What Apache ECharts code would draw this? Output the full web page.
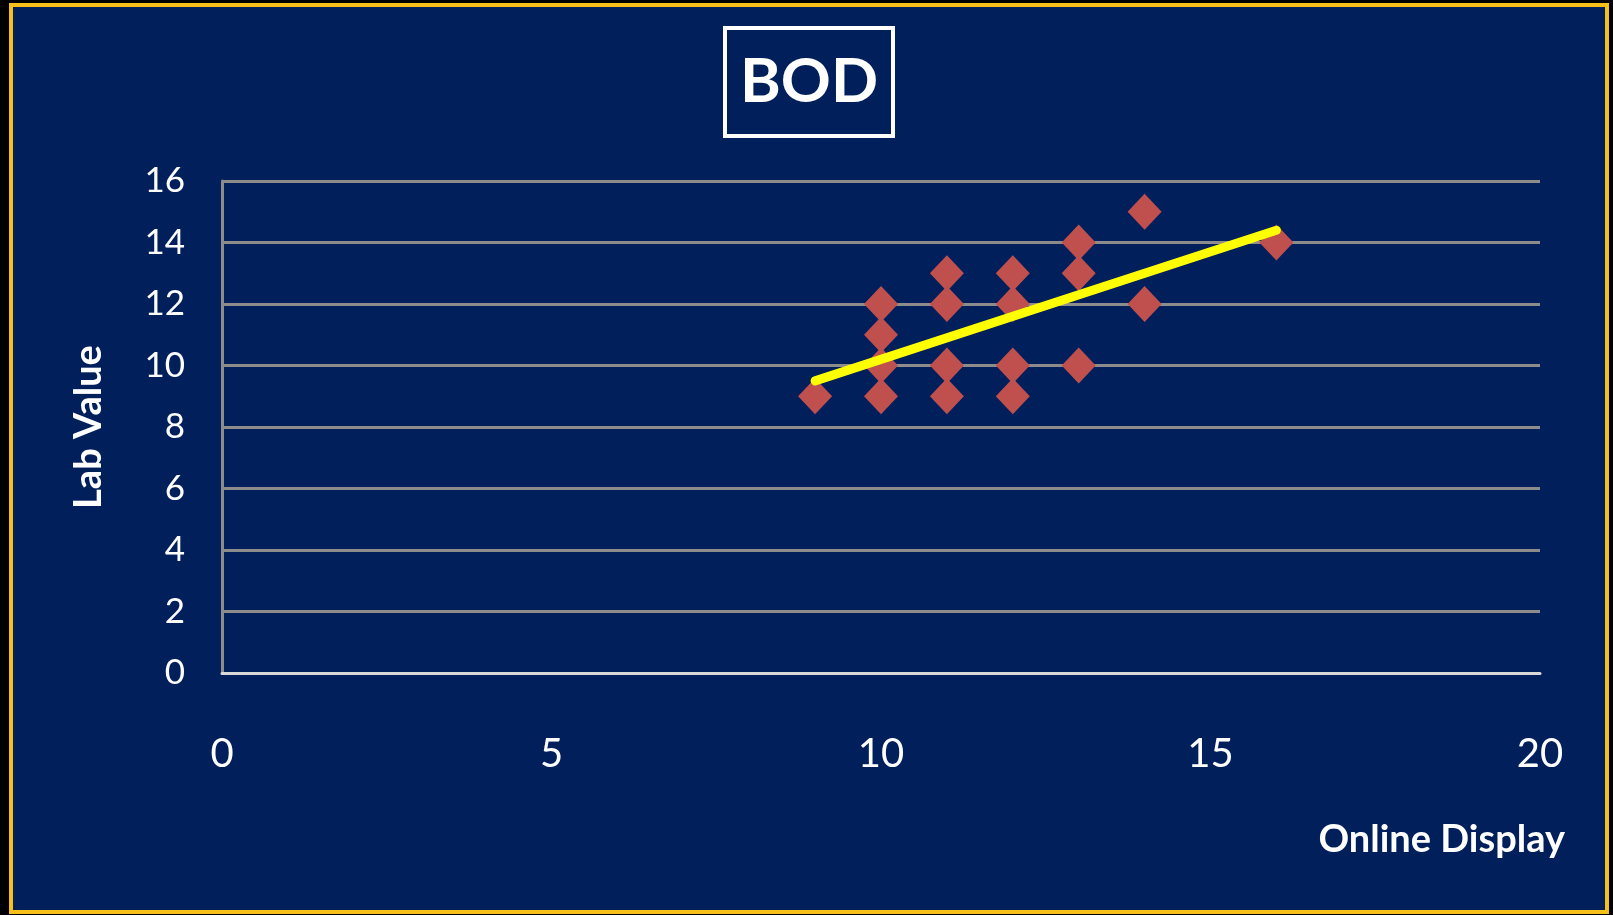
<!DOCTYPE html>
<html>
<head>
<meta charset="utf-8">
<script src="https://cdn.jsdelivr.net/npm/echarts@6/dist/echarts.min.js"></script>
<style>
html,body{margin:0;padding:0;background:#000;}
#chart{width:1613px;height:915px;}
</style>
</head>
<body>
<div id="chart"></div>
<script>
const titleText = 'BOD';
const xAxisName = 'Online Display';
const yAxisName = 'Lab Value';
const onlineDisplay = [9, 10, 10, 10, 10, 11, 11, 11, 11, 12, 12, 12, 12, 13, 13, 13, 14, 14, 16];
const labValue      = [9, 12, 11, 10, 9, 13, 12, 10, 9, 13, 12, 10, 9, 14, 13, 10, 15, 12, 14];
const trendX = [9, 16];
const trendY = [9.5, 14.4];

const FONT = 'Lato, "Open Sans", sans-serif';
const chart = echarts.init(document.getElementById('chart'), null, {renderer: 'canvas'});
const points = onlineDisplay.map((x, i) => [x, labValue[i]]);
const trend = trendX.map((x, i) => [x, trendY[i]]);

chart.setOption({
  backgroundColor: '#000',
  animation: false,
  graphic: [{
    type: 'rect',
    z: -10,
    silent: true,
    shape: {x: 11, y: 5, width: 1596, height: 907},
    style: {fill: '#001f5b', stroke: '#f7bf1a', lineWidth: 4}
  }],
  title: {
    text: titleText,
    left: 725,
    top: 28,
    padding: [19, 15, 19, 15],
    borderColor: '#ffffff',
    borderWidth: 4,
    textStyle: {color: '#ffffff', fontSize: 62, fontWeight: 'bold', fontFamily: FONT, lineHeight: 70}
  },
  grid: {left: 222, right: 73, top: 181, bottom: 242, containLabel: false},
  xAxis: {
    type: 'value',
    min: 0, max: 20, interval: 5,
    name: xAxisName,
    nameLocation: 'end',
    nameGap: 25,
    nameTextStyle: {color: '#ffffff', fontSize: 38, fontWeight: 'bold', fontFamily: FONT,
      align: 'right', verticalAlign: 'top', padding: [148, 0, 0, 0]},
    axisLine: {show: true, onZero: false, lineStyle: {color: '#d9d9d9', width: 3}},
    axisTick: {show: false},
    axisLabel: {color: '#ffffff', fontSize: 40, fontFamily: FONT, margin: 61},
    splitLine: {show: false}
  },
  yAxis: {
    type: 'value',
    min: 0, max: 16, interval: 2,
    name: yAxisName,
    nameLocation: 'middle',
    nameRotate: 90,
    nameGap: 114,
    nameTextStyle: {color: '#ffffff', fontSize: 38, fontWeight: 'bold', fontFamily: FONT},
    axisLine: {show: true, lineStyle: {color: '#8c8c8c', width: 3}},
    axisTick: {show: false},
    axisLabel: {color: '#ffffff', fontSize: 35, fontFamily: FONT, margin: 37},
    splitLine: {show: true, lineStyle: {color: '#8c8c8c', width: 3}}
  },
  series: [
    {
      type: 'scatter',
      data: points,
      symbol: 'diamond',
      symbolSize: [34, 36],
      itemStyle: {color: '#c0504d', opacity: 1},
      z: 2
    },
    {
      type: 'line',
      data: trend,
      symbol: 'none',
      lineStyle: {color: '#ffff00', width: 9, cap: 'round'},
      z: 3
    }
  ]
});
</script>
</body>
</html>
